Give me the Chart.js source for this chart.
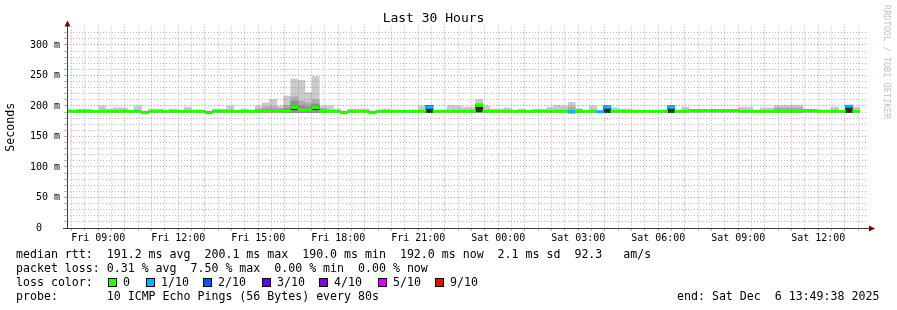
<!DOCTYPE html>
<html>
<head>
<meta charset="utf-8">
<script src="https://cdn.jsdelivr.net/npm/chart.js@4.4.0/dist/chart.umd.min.js"></script>
<style>
    html, body { margin: 0; padding: 0; background: #fff; }
    #wrap { position: relative; width: 897px; height: 310px; overflow: hidden; font-family: "DejaVu Sans Mono", monospace; }
    #grafico { position: absolute; left: 0; top: 0; }
    .riga { position: absolute; white-space: pre; font-size: 11.6px; line-height: 14px; color: #000; }
    .box { position: absolute; width: 9px; height: 9px; border: 1px solid #000; box-sizing: border-box; }
    #firma { position: absolute; left: 892px; top: 5px; transform: rotate(90deg); transform-origin: 0 0;
             white-space: pre; font-size: 8.6px; line-height: 10px; color: #c4c4c4; }
</style>
</head>
<body>
<div id="wrap">
    <canvas id="grafico" width="897" height="310"></canvas>
    <div id="firma">RRDTOOL / TOBI OETIKER</div>
    <div class="riga" style="left:16px;top:247px">median rtt:  191.2 ms avg  200.1 ms max  190.0 ms min  192.0 ms now  2.1 ms sd  92.3   am/s</div>
    <div class="riga" style="left:16px;top:261px">packet loss: 0.31 % avg  7.50 % max  0.00 % min  0.00 % now</div>
    <div class="riga" style="left:16px;top:275px">loss color:</div>
    <div id="legenda"></div>
    <div class="riga" style="left:16px;top:289px">probe:       10 ICMP Echo Pings (56 Bytes) every 80s</div>
    <div class="riga" style="left:677px;top:289px">end: Sat Dec  6 13:49:38 2025</div>
</div>
<script>
// bins of 16 minutes, hours counted from Fri 00:00
const binStart = 7.6847;
const binHours = 16 / 60;
const xMin = 7.8272;   // Fri 07:49:38
const xMax = 37.8272;  // Sat 13:49:38

// smoke upper edge (ms) per bin
const smokeHi = [
    195, 192, 195, 195, 192, 200, 195, 197, 197, 193,
    200, 192, 195, 195, 193, 195, 193, 198, 193, 193,
    192, 195, 195, 200, 193, 195, 193, 200, 205, 211,
    200, 216, 244, 242, 222, 248, 200, 200, 195, 192,
    195, 195, 195, 192, 193, 195, 192, 192, 192, 192,
    200, 200, 192, 192, 201, 200, 198, 198, 211, 200,
    195, 195, 197, 193, 195, 193, 195, 195, 198, 201,
    200, 206, 195, 193, 200, 193, 200, 197, 195, 195,
    193, 193, 193, 192, 193, 200, 192, 198, 194, 194,
    194, 194, 194, 194, 194, 198, 198, 193, 197, 197,
    201, 201, 201, 201, 194, 194, 192, 192, 198, 192,
    201, 198
];
// smoke lower edge (ms) per bin
const smokeLo = [
    189, 189, 189, 189, 189, 189, 189, 189, 189, 189,
    189, 187.5, 189, 189, 189, 189, 189, 189, 189, 189,
    187.5, 189, 189, 189, 189, 189, 189, 189, 189, 189,
    189, 189, 189, 189, 189, 189, 189, 189, 189, 187.5,
    189, 189, 189, 187.5, 189, 189, 189, 189, 189, 189,
    189, 189, 189, 189, 189, 189, 189, 189, 189, 189,
    189, 189, 189, 189, 189, 189, 189, 189, 189, 189,
    189, 188.5, 189, 189, 189, 188.5, 189, 189, 189, 189,
    189, 189, 189, 189, 189, 189, 189, 189, 189, 189,
    189, 189, 189, 189, 189, 189, 189, 189, 189, 189,
    189, 189, 189, 189, 189, 189, 189, 189, 189, 189,
    189, 189
];
// median rtt (ms) per bin
const median = [
    191.3, 191.3, 191.3, 191.3, 191.3, 191.3, 191.3, 191.3, 191.3, 191.3,
    191.3, 189, 191.3, 191.3, 191.3, 191.3, 191.3, 191.3, 191.3, 191.3,
    189, 191.3, 191.3, 191.3, 191.3, 191.3, 191.3, 191.3, 192.5, 192.5,
    192.5, 191.5, 197.5, 193, 193, 197.5, 191.5, 191.3, 191.3, 189,
    191.3, 191.3, 191.3, 189, 191.3, 191.3, 191.3, 191.3, 191.3, 191.3,
    191.3, 198, 191.3, 191.3, 191.3, 191.3, 191.3, 191.3, 201, 191.3,
    191.3, 191.3, 191.3, 191.3, 191.3, 191.3, 191.3, 191.3, 191.3, 191.3,
    191.3, 190.3, 191.3, 191.3, 191.3, 190.5, 198, 191.3, 191.3, 191.3,
    191.3, 191.3, 191.3, 191.3, 191.3, 198, 191.3, 191.3, 192.5, 192.5,
    192.5, 192.5, 192.5, 192.5, 192.5, 191.3, 191.3, 191.3, 191.3, 191.3,
    191.3, 191.3, 191.3, 191.3, 192.5, 192.5, 191.3, 191.3, 191.3, 191.3,
    199.5, 191.3
];

// bins with packet loss (index into lossColors)
const lossBins = [51, 71, 75, 76, 85, 110];
const lossLevel = [1, 1, 1, 1, 1, 1];

// medium grey smoke
const midBins = [27, 28, 29, 30, 31, 32, 33, 34, 35, 36, 58, 71, 72, 100, 101, 102, 103];
const midHi = [195, 198, 199, 196, 201, 215, 208, 205, 210, 196, 204, 198, 195, 197, 197, 197, 197];
// darker grey smoke
const innerBins = [31, 32, 33, 34, 35];
const innerHi = [196, 208, 200, 198, 203];
// near black smoke
const darkBins = [32, 35, 51, 58, 76, 85, 110];
const darkLo = [194, 194, 189, 190, 189, 189, 189];
const darkHi = [199, 199, 201, 202, 200, 200, 201];

const lossColors = ['#26ff00', '#00b8ff', '#0059ff', '#5e00ff', '#7e00ff', '#dd00ff', '#ff0000'];
const lossLabels = ['0', '1/10', '2/10', '3/10', '4/10', '5/10', '9/10'];
const lossBoxX = [108, 146, 203, 262, 319, 378, 435];

const xTickHours = [9, 12, 15, 18, 21, 24, 27, 30, 33, 36];
const xTickLabels = ['Fri 09:00', 'Fri 12:00', 'Fri 15:00', 'Fri 18:00', 'Fri 21:00',
                     'Sat 00:00', 'Sat 03:00', 'Sat 06:00', 'Sat 09:00', 'Sat 12:00'];
const yTickValues = [0, 50, 100, 150, 200, 250, 300];
const yTickLabels = ['0   ', '50 m', '100 m', '150 m', '200 m', '250 m', '300 m'];

const FONT = '"DejaVu Sans Mono", monospace';
const ROSSO = 'rgba(230, 60, 60, 0.55)';
const GRIGIO = 'rgba(130, 130, 130, 0.55)';
const medHalf = 2.1;

// legend boxes
const legenda = document.getElementById('legenda');
lossLabels.forEach((txt, i) => {
    legenda.innerHTML += `<div class="box" style="left:${lossBoxX[i]}px;top:278px;background:${lossColors[i]}"></div>` +
        `<div class="riga" style="left:${lossBoxX[i] + 15}px;top:275px">${txt}</div>`;
});

const binX = smokeHi.map((_, i) => binStart + (i + 0.5) * binHours);

function coloreMediana(i) {
    const k = lossBins.indexOf(i);
    return lossColors[k < 0 ? 0 : lossLevel[k]];
}

const frecce = {
    id: 'frecce',
    afterDraw(chart) {
        const { ctx, chartArea: a, scales: { y } } = chart;
        const y0 = Math.round(y.getPixelForValue(0)) + 0.5;
        const xl = Math.round(a.left) + 0.5;
        ctx.save();
        ctx.strokeStyle = '#404040';
        ctx.lineWidth = 1;
        ctx.beginPath();
        ctx.moveTo(xl, y0);
        ctx.lineTo(xl, a.top - 3);
        ctx.moveTo(a.left - 4, y0);
        ctx.lineTo(a.right + 2, y0);
        ctx.stroke();
        ctx.fillStyle = '#7f0000';
        ctx.beginPath();
        ctx.moveTo(xl, a.top - 6);
        ctx.lineTo(xl - 3, a.top);
        ctx.lineTo(xl + 3, a.top);
        ctx.fill();
        ctx.beginPath();
        ctx.moveTo(a.right + 8, y0);
        ctx.lineTo(a.right + 2, y0 - 3);
        ctx.lineTo(a.right + 2, y0 + 3);
        ctx.fill();
        ctx.restore();
    }
};

new Chart(document.getElementById('grafico'), {
    type: 'bar',
    data: {
        datasets: [
            {
                data: median.map((m, i) => ({ x: binX[i], y: [m - medHalf, m + medHalf] })),
                backgroundColor: median.map((_, i) => coloreMediana(i)),
                order: 0
            },
            {
                data: darkBins.map((b, k) => ({ x: binX[b], y: [darkLo[k], darkHi[k]] })),
                backgroundColor: '#2b2b2b',
                order: 1
            },
            {
                data: innerBins.map((b, k) => ({ x: binX[b], y: [smokeLo[b], innerHi[k]] })),
                backgroundColor: '#8e8e8e',
                order: 2
            },
            {
                data: midBins.map((b, k) => ({ x: binX[b], y: [smokeLo[b], midHi[k]] })),
                backgroundColor: '#ababab',
                order: 3
            },
            {
                data: smokeHi.map((h, i) => ({ x: binX[i], y: [smokeLo[i], h] })),
                backgroundColor: '#cacaca',
                order: 4
            }
        ]
    },
    options: {
        responsive: false,
        animation: false,
        events: [],
        layout: { padding: { left: 0, right: 30, top: 0, bottom: 0 } },
        datasets: {
            bar: { grouped: false, barPercentage: 1, categoryPercentage: 1, borderWidth: 0, clip: 0 }
        },
        plugins: {
            legend: { display: false },
            tooltip: { enabled: false },
            title: {
                display: true,
                text: 'Last 30 Hours',
                color: '#000',
                font: { family: FONT, size: 13, weight: 'normal' },
                padding: { top: 11, bottom: 0 }
            }
        },
        scales: {
            x: {
                type: 'linear',
                min: xMin,
                max: xMax,
                offset: false,
                afterFit: s => { s.height = 82; },
                afterBuildTicks: s => {
                    const t = [];
                    for (let h = 8; h <= 37.5; h += 0.5) t.push({ value: h });
                    s.ticks = t;
                },
                ticks: {
                    autoSkip: false,
                    maxRotation: 0,
                    padding: 1,
                    color: '#000',
                    font: { family: FONT, size: 10 },
                    callback: v => {
                        const k = xTickHours.indexOf(v);
                        return k < 0 ? '' : xTickLabels[k];
                    }
                },
                grid: {
                    offset: false,
                    z: 1,
                    tickLength: 3,
                    color: c => Number.isInteger(c.tick.value) ? ROSSO : GRIGIO,
                    tickColor: c => Number.isInteger(c.tick.value) ? ROSSO : GRIGIO
                },
                border: { display: false, dash: [1, 2] }
            },
            y: {
                min: 0,
                max: 330,
                afterFit: s => { s.width = 67; },
                afterBuildTicks: s => {
                    const t = [];
                    for (let v = 0; v <= 320; v += 10) t.push({ value: v });
                    s.ticks = t;
                },
                ticks: {
                    autoSkip: false,
                    padding: 4,
                    color: '#000',
                    font: { family: FONT, size: 10 },
                    callback: v => {
                        const k = yTickValues.indexOf(v);
                        return k < 0 ? '' : yTickLabels[k];
                    }
                },
                grid: {
                    z: 1,
                    tickLength: 3,
                    color: c => c.tick.value === 0 ? 'rgba(0,0,0,0)' : (c.tick.value % 50 === 0 ? ROSSO : GRIGIO),
                    tickColor: c => c.tick.value === 0 ? 'rgba(0,0,0,0)' : (c.tick.value % 50 === 0 ? ROSSO : GRIGIO)
                },
                border: { display: false, dash: [1, 2] },
                title: {
                    display: true,
                    text: 'Seconds',
                    color: '#000',
                    font: { family: FONT, size: 11.6 },
                    padding: { top: 4, bottom: 0 }
                }
            }
        }
    },
    plugins: [frecce]
});
</script>
</body>
</html>
